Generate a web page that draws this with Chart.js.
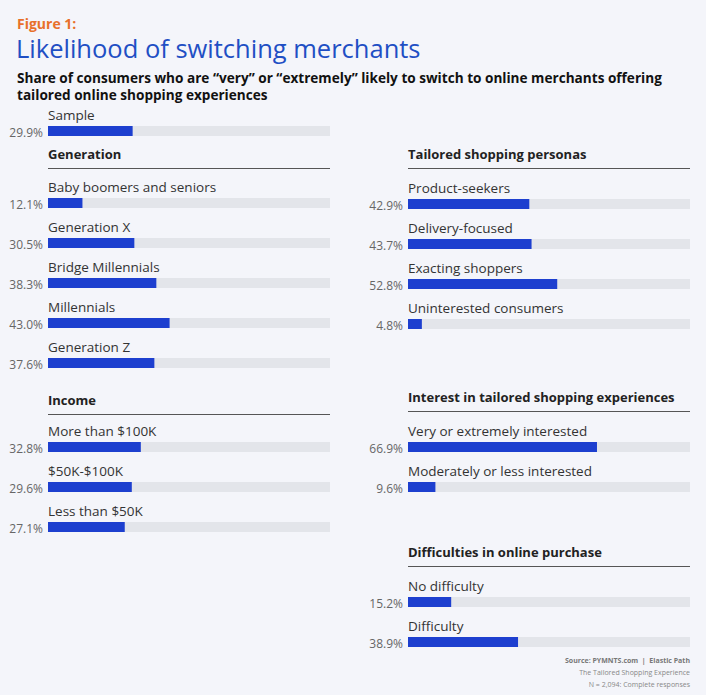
<!DOCTYPE html>
<html><head><meta charset="utf-8">
<script src="https://cdn.jsdelivr.net/npm/chart.js@4"></script>
<style>
body{margin:0;background:#f4f5fa;font-family:"Open Sans",sans-serif;width:706px;height:695px;position:relative;overflow:hidden}
.t{position:absolute;white-space:nowrap}
.fig{left:17px;top:14px;color:#e8702a;font-weight:bold;font-size:14px}
.title{left:16px;top:31px;color:#1f4fc4;font-size:25.5px}
.sub{left:17px;top:69px;font-weight:bold;font-size:13.6px;color:#111;line-height:17px}
.lab{font-size:13.5px;color:#333}
.pct{font-size:12px;color:#666;text-align:right;width:42px}
.hd{font-weight:bold;font-size:13px;color:#222;border-bottom:1px solid #555;padding-bottom:5px}
.bar{position:absolute;width:282px;height:10px}
.src{right:16px;font-size:7px;color:#888;text-align:right}
</style></head><body>
<div class="t fig">Figure 1:</div>
<div class="t title">Likelihood of switching merchants</div>
<div class="t sub">Share of consumers who are “very” or “extremely” likely to switch to online merchants offering<br>tailored online shopping experiences</div>
<div id="root"></div>
<div class="t src" style="top:656px;font-weight:bold;color:#777">Source: PYMNTS.com &nbsp;|&nbsp; Elastic Path</div>
<div class="t src" style="top:668px">The Tailored Shopping Experience</div>
<div class="t src" style="top:680px">N = 2,094: Complete responses</div>
<script>
// data
const sampleLabels = ["Sample"];
const sampleValues = [29.9];
const generationLabels = ["Baby boomers and seniors", "Generation X", "Bridge Millennials", "Millennials", "Generation Z"];
const generationValues = [12.1, 30.5, 38.3, 43.0, 37.6];
const incomeLabels = ["More than $100K", "$50K-$100K", "Less than $50K"];
const incomeValues = [32.8, 29.6, 27.1];
const personaLabels = ["Product-seekers", "Delivery-focused", "Exacting shoppers", "Uninterested consumers"];
const personaValues = [42.9, 43.7, 52.8, 4.8];
const interestLabels = ["Very or extremely interested", "Moderately or less interested"];
const interestValues = [66.9, 9.6];
const difficultyLabels = ["No difficulty", "Difficulty"];
const difficultyValues = [15.2, 38.9];

const root = document.getElementById("root");

function header(text, x, y) {
  const d = document.createElement("div");
  d.className = "t hd";
  d.style.left = x + "px"; d.style.top = y + "px"; d.style.width = "282px";
  d.textContent = text;
  root.appendChild(d);
}

function group(labels, values, x, y0) {
  labels.forEach((lab, i) => {
    const y = y0 + i * 40;
    const l = document.createElement("div");
    l.className = "t lab"; l.style.left = x + "px"; l.style.top = (y - 24) + "px";
    l.textContent = lab; root.appendChild(l);
    const p = document.createElement("div");
    p.className = "t pct"; p.style.left = (x - 47) + "px"; p.style.top = (y - 6) + "px";
    p.textContent = values[i].toFixed(1) + "%"; root.appendChild(p);
    const c = document.createElement("canvas");
    const wrap = document.createElement("div");
    wrap.className = "bar"; wrap.style.left = x + "px"; wrap.style.top = (y - 4) + "px";
    wrap.appendChild(c); root.appendChild(wrap);
    new Chart(c, {
      type: "bar",
      data: {
        labels: [lab],
        datasets: [
          { data: [values[i]], backgroundColor: "#1d3fcf", order: 1 },
          { data: [100], backgroundColor: "#e3e5ea", order: 2 },
        ],
      },
      options: {
        indexAxis: "y",
        responsive: true, maintainAspectRatio: false, animation: false,
        layout: { padding: 0 },
        datasets: { bar: { grouped: false, categoryPercentage: 1, barPercentage: 1 } },
        scales: { x: { display: false, min: 0, max: 100 }, y: { display: false } },
        plugins: { legend: { display: false }, tooltip: { enabled: false } },
      },
    });
  });
}

group(sampleLabels, sampleValues, 48, 130);
header("Generation", 48, 145);
group(generationLabels, generationValues, 48, 202);
header("Income", 48, 391);
group(incomeLabels, incomeValues, 48, 446);
header("Tailored shopping personas", 408, 145);
group(personaLabels, personaValues, 408, 203);
header("Interest in tailored shopping experiences", 408, 388);
group(interestLabels, interestValues, 408, 446);
header("Difficulties in online purchase", 408, 543);
group(difficultyLabels, difficultyValues, 408, 601);
</script>
</body></html>
